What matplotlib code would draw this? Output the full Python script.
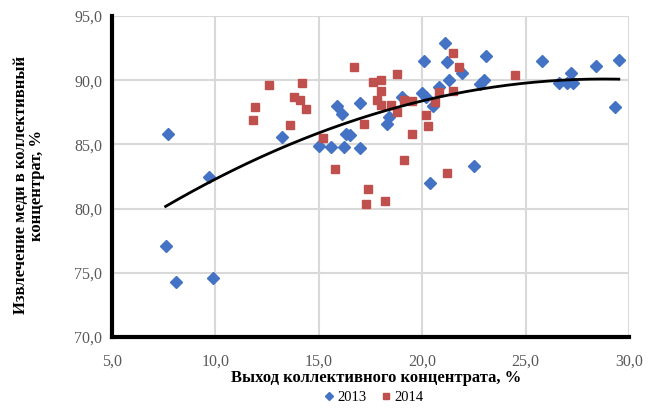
import numpy as np
import matplotlib.pyplot as plt
from matplotlib.ticker import FuncFormatter

# 2013 series (blue diamonds)
x_2013 = [7.7, 7.6, 8.1, 9.9, 9.7, 13.2, 15.0, 15.6, 15.9, 16.1, 16.2, 16.3,
          16.5, 17.0, 17.0, 18.3, 18.4, 19.0, 20.0, 20.2, 20.5, 20.8, 21.3,
          20.1, 21.1, 21.2, 21.9, 23.1, 22.8, 23.0, 20.4, 22.5, 25.8, 26.6,
          27.0, 27.2, 27.3, 28.4, 29.5, 29.3]
y_2013 = [85.8, 77.1, 74.3, 74.6, 82.5, 85.6, 84.9, 84.8, 88.0, 87.4, 84.8, 85.8,
          85.7, 84.7, 88.2, 86.6, 87.1, 88.7, 89.0, 88.7, 88.0, 89.5, 90.0,
          91.5, 92.9, 91.4, 90.6, 91.9, 89.7, 90.0, 82.0, 83.3, 91.5, 89.8,
          89.8, 90.6, 89.8, 91.1, 91.6, 87.9]

# 2014 series (red squares)
x_2014 = [11.8, 11.9, 12.6, 13.6, 13.8, 14.1, 14.2, 14.4, 15.2, 15.8, 16.7,
          17.2, 17.4, 17.3, 17.6, 17.8, 18.0, 18.0, 18.0, 18.2, 18.5, 18.8,
          18.8, 19.1, 19.5, 19.1, 19.5, 20.2, 20.3, 20.8, 21.5, 21.5, 21.8,
          21.2, 24.5, 20.6]
y_2014 = [86.9, 87.9, 89.6, 86.5, 88.7, 88.5, 89.8, 87.8, 85.5, 83.1, 91.0,
          86.6, 81.5, 80.4, 89.9, 88.5, 90.0, 89.2, 88.1, 80.6, 88.1, 87.5,
          90.5, 88.5, 88.4, 83.8, 85.8, 87.3, 86.4, 89.1, 89.2, 92.1, 91.0,
          82.8, 90.4, 88.3]

x_all = np.array(x_2013 + x_2014)
y_all = np.array(y_2013 + y_2014)

plt.rcParams['font.family'] = ['Liberation Serif', 'DejaVu Serif']

fig = plt.figure(figsize=(6.54, 4.12), dpi=100)
ax = fig.add_axes([0.171, 0.182, 0.791, 0.779])

ax.plot(x_2013, y_2013, 'D', color='#4472C4', markersize=6, label='2013', zorder=3)
ax.plot(x_2014, y_2014, 's', color='#C0504D', markersize=6, label='2014', zorder=3)

# polynomial trendline over both years
coef = np.polyfit(x_all, y_all, 2)
xt = np.linspace(min(x_all), max(x_all), 200)
ax.plot(xt, np.polyval(coef, xt), color='black', linewidth=2, zorder=4)

ax.set_xlim(5, 30)
ax.set_ylim(70, 95)
ax.set_xticks(np.arange(5, 31, 5))
ax.set_yticks(np.arange(70, 96, 5))
fmt = FuncFormatter(lambda v, p: f'{v:.1f}'.replace('.', ','))
ax.xaxis.set_major_formatter(fmt)
ax.yaxis.set_major_formatter(fmt)
ax.tick_params(length=0, labelsize=11.5, colors='#595959')
ax.tick_params(axis='x', pad=12)
ax.tick_params(axis='y', pad=7)
ax.grid(True, color='#d9d9d9', linewidth=1.5)
ax.set_axisbelow(True)
for s in ['top', 'right']:
    ax.spines[s].set_visible(False)
for s in ['left', 'bottom']:
    ax.spines[s].set_linewidth(3)
    ax.spines[s].set_color('black')

fig.text(0.575, 0.083, 'Выход коллективного концентрата, %', fontsize=12,
         fontweight='bold', ha='center', va='center')
fig.text(0.044, 0.55, 'Извлечение меди в коллективный\nконцентрат, %', fontsize=12,
         fontweight='bold', ha='center', va='center', rotation=90, linespacing=1.0)

fig.legend(loc='center', bbox_to_anchor=(0.57, 0.036), ncol=2, frameon=False,
           fontsize=10.5, handletextpad=0.1, columnspacing=0.8, markerscale=0.75,
           handlelength=1, borderpad=0)

fig.savefig('out.png', dpi=100)
